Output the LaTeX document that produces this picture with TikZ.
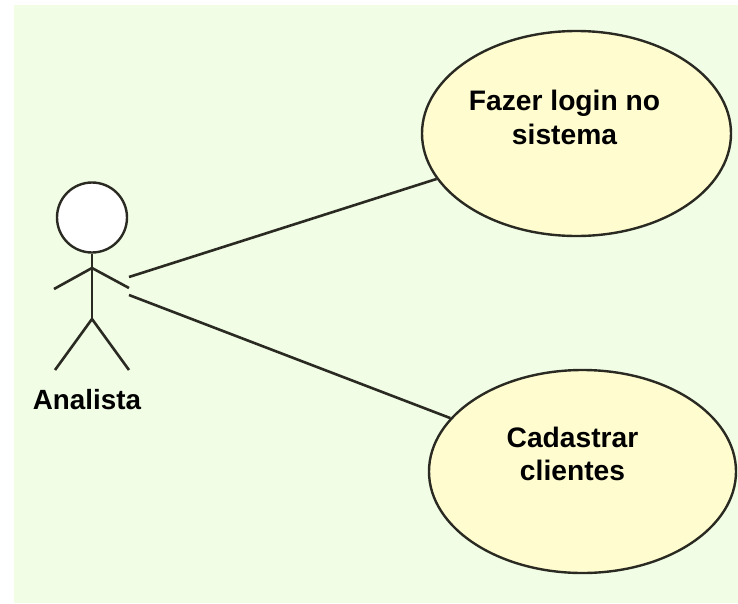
\documentclass[tikz,border=0pt]{standalone}
\usepackage{fontspec}
\setmainfont{Liberation Sans}
\usetikzlibrary{shapes.geometric}
\definecolor{bgcol}{HTML}{F1FDE5}
\definecolor{casecol}{HTML}{FFFDD0}
\definecolor{inkcol}{HTML}{2A2A22}
\tikzset{
  usecase/.style={draw=inkcol,line width=2.4pt,fill=casecol,ellipse,inner sep=0pt},
  casetext/.style={align=center,inner sep=0pt,text=black,font=\fontsize{28.2}{33.5}\selectfont\bfseries},
  limb/.style={draw=inkcol,line width=2.6pt},
  assoc/.style={draw=inkcol,line width=2.6pt},
  actorlabel/.style={font=\fontsize{27.8}{33}\selectfont\bfseries,text=black,inner sep=0pt}
}
\begin{document}
\begin{tikzpicture}[x=1pt,y=-1pt]
\useasboundingbox (0,0) rectangle (738,603);
\fill[white] (0,0) rectangle (738,603);
\fill[bgcol] (14,5) rectangle (738,603);
\node[usecase,minimum width=309pt,minimum height=205pt] (login) at (576.5,133.5) {};
\node[usecase,minimum width=307pt,minimum height=203pt] (cad) at (582.5,471.5) {};
\node[casetext] (logintext) at (564.5,117.5) {Fazer login no\\sistema};
\node[casetext] (cadtext) at (572.5,454) {Cadastrar\\clientes};
\node[circle,draw=inkcol,line width=2.4pt,fill=white,minimum size=70pt,inner sep=0pt] (head) at (92,217.5) {};
\coordinate (shoulder) at (92,268);
\coordinate (hip) at (92,319);
\coordinate (handL) at (54,289);
\coordinate (handR) at (129,288);
\coordinate (footL) at (55,370);
\coordinate (footR) at (129,370);
\coordinate (a1) at (129,277);
\coordinate (a2) at (129,295);
\draw[limb] (head.south) -- (hip);
\draw[limb] (handL) -- (shoulder) -- (handR);
\draw[limb] (footL) -- (hip) -- (footR);
\node[actorlabel] (actor) at (87,399.5) {Analista};
\draw[assoc] (a1) -- (login.198);
\draw[assoc] (a2) -- (cad.158);
\end{tikzpicture}
\end{document}
